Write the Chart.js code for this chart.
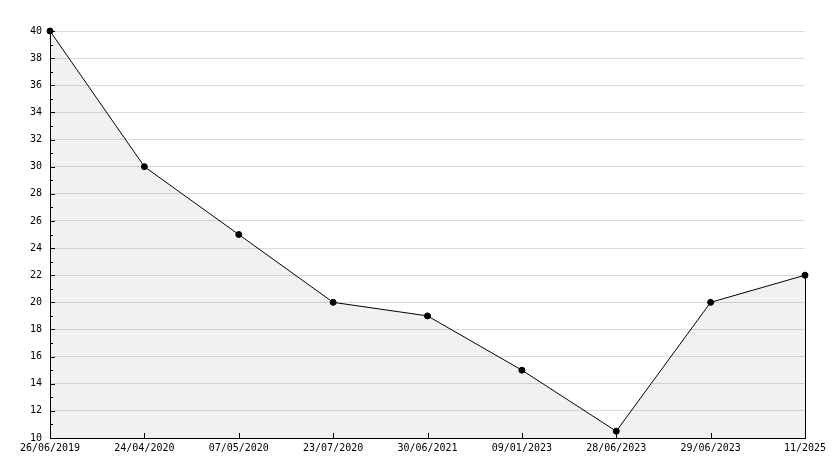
<!DOCTYPE html>
<html>
<head>
<meta charset="utf-8">
<script src="https://cdn.jsdelivr.net/npm/chart.js@4"></script>
<style>
  html, body { margin: 0; padding: 0; background: #fff; }
  #wrap { width: 834px; height: 468px; }
</style>
</head>
<body>
<div id="wrap"><canvas id="chart" width="834" height="468"></canvas></div>
<script>
const dates = ["26/06/2019", "24/04/2020", "07/05/2020", "23/07/2020", "30/06/2021",
  "09/01/2023", "28/06/2023", "29/06/2023", "11/2025"];
const values = [40, 30, 25, 20, 19, 15, 10.5, 20, 22];
const yMin = 10;
const yMax = 40;

const FONT = { family: "'DejaVu Sans Mono', monospace", size: 10 };

// ticks drawn inside the plot, plus the closing edge of the filled area
const innerTicks = {
  id: "innerTicks",
  beforeDatasetsDraw(chart) {
    const ctx = chart.ctx;
    const x = chart.scales.x;
    const y = chart.scales.y;
    const area = chart.chartArea;
    ctx.save();
    ctx.strokeStyle = "#000";
    ctx.lineWidth = 1;
    ctx.beginPath();
    for (let v = yMin; v <= yMax; v++) {
      const py = Math.round(y.getPixelForValue(v)) + 0.5;
      const len = v % 2 === 0 ? 5 : 3;
      ctx.moveTo(area.left, py);
      ctx.lineTo(area.left + len, py);
    }
    dates.forEach((d, i) => {
      const px = Math.round(x.getPixelForValue(i)) + 0.5;
      ctx.moveTo(px, area.bottom);
      ctx.lineTo(px, area.bottom - 5);
    });
    ctx.stroke();
    ctx.restore();
  },
  afterDatasetsDraw(chart) {
    const ctx = chart.ctx;
    const area = chart.chartArea;
    const pts = chart.getDatasetMeta(0).data;
    const last = pts[pts.length - 1];
    const lx = Math.round(last.x) + 0.5;
    ctx.save();
    ctx.strokeStyle = "#000";
    ctx.lineWidth = 1;
    ctx.beginPath();
    ctx.moveTo(lx, last.y);
    ctx.lineTo(lx, area.bottom);
    ctx.stroke();
    ctx.restore();
  }
};

new Chart(document.getElementById("chart"), {
  type: "line",
  plugins: [innerTicks],
  data: {
    labels: dates,
    datasets: [{
      data: values,
      borderColor: "#000",
      borderWidth: 1,
      backgroundColor: "rgba(0,0,0,0.055)",
      fill: "start",
      tension: 0,
      clip: false,
      pointStyle: "circle",
      pointRadius: 3,
      pointBackgroundColor: "#000",
      pointBorderColor: "#000",
      pointBorderWidth: 1
    }]
  },
  options: {
    responsive: false,
    animation: false,
    layout: { padding: { top: 31, right: 29, left: 0, bottom: 0 } },
    plugins: {
      legend: { display: false },
      tooltip: { enabled: false }
    },
    scales: {
      x: {
        type: "category",
        offset: false,
        grid: { display: false, drawTicks: false },
        border: { color: "#000", width: 1 },
        ticks: { color: "#000", font: FONT, maxRotation: 0, autoSkip: false, padding: 4 },
        afterFit(scale) { scale.height = 30; }
      },
      y: {
        min: yMin,
        max: yMax,
        grid: {
          drawTicks: false,
          color: (c) => (c.tick && c.tick.value % 2 === 0 ? "#dcdcdc" : "rgba(0,0,0,0)")
        },
        border: { color: "#000", width: 1 },
        ticks: {
          stepSize: 1,
          color: "#000",
          font: FONT,
          padding: 8,
          callback: (v) => (v % 2 === 0 ? v : "")
        },
        afterFit(scale) { scale.width = 50; }
      }
    }
  }
});
</script>
</body>
</html>
